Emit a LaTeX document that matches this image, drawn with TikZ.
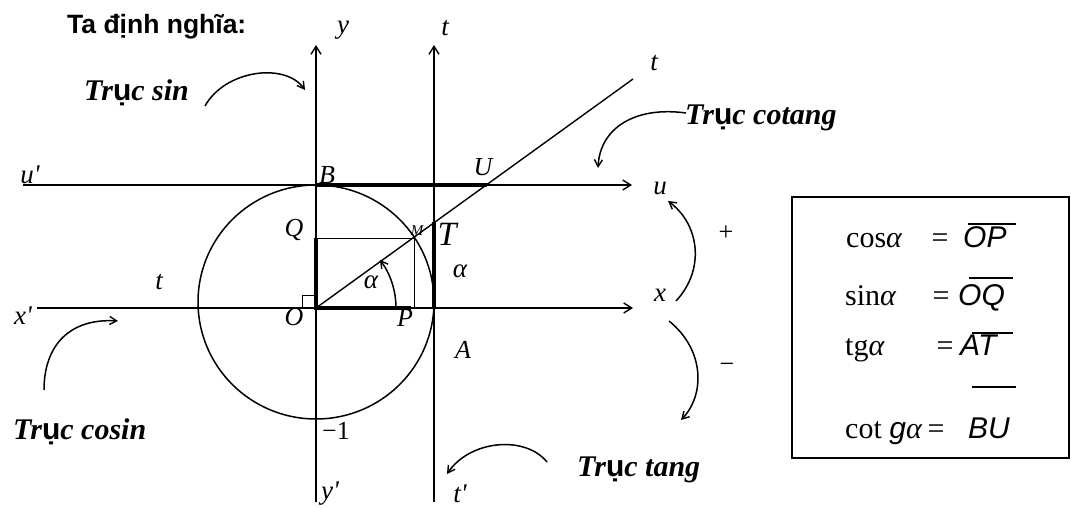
\documentclass[tikz,border=0pt]{standalone}
\usepackage{fontspec}
\setmainfont{Liberation Serif}
\setsansfont{Liberation Sans}
\usetikzlibrary{arrows.meta}
\newcommand{\uu}{{\sffamily\bfseries\upshape ụ}}
\newcommand{\pr}{\textquotesingle}
\begin{document}
\begin{tikzpicture}[x=1pt,y=-1pt,
  axis/.style={line width=1.5pt,-{Straight Barb[length=8pt,width=10pt,line width=1.4pt]}},
  curv/.style={line width=1.5pt,-{Straight Barb[length=7pt,width=8pt,line width=1.4pt]}},
  thinl/.style={line width=1pt},
  boldl/.style={line width=4.5pt,line join=miter},
  lbl/.style={inner sep=0pt,font=\fontsize{27}{30}\selectfont\itshape},
  pt/.style={inner sep=0pt,font=\fontsize{26}{30}\selectfont\itshape},
  big/.style={inner sep=0pt,anchor=west,font=\fontsize{30}{36}\selectfont\bfseries\itshape},
  boxs/.style={inner sep=0pt,font=\fontsize{30}{36}\selectfont},
  boxsans/.style={inner sep=0pt,font=\fontsize{30}{36}\selectfont\sffamily\itshape}]
\useasboundingbox (0,0) rectangle (1071,508);

% coordinates
\coordinate (O) at (316,308);
\coordinate (B) at (316,185);
\coordinate (U) at (487,185);
\coordinate (M) at (414,238);
\coordinate (P) at (414,308);
\coordinate (Pb) at (411,308);
\coordinate (Q) at (316,238);
\coordinate (T) at (434,222);
\coordinate (A) at (434,308);
\coordinate (yb) at (316,502);
\coordinate (yt) at (316,45);
\coordinate (tb) at (434,502);
\coordinate (tt) at (434,45);
\coordinate (ul) at (23,185);
\coordinate (ur) at (632,185);
\coordinate (xl) at (37,308);
\coordinate (xr) at (633,308);
\coordinate (te) at (633,79);

% title
\node[inner sep=0pt,anchor=west,font=\fontsize{26.5}{30}\selectfont\sffamily\bfseries] (title) at (67,27) {Ta định nghĩa:};

% axes
\draw[axis] (yb) -- (yt);
\draw[axis] (tb) -- (tt);
\draw[axis] (ul) -- (ur);
\draw[axis] (xl) -- (xr);

% circle
\draw[line width=1.5pt] (316,302) ellipse [x radius=118, y radius=117];

% ray O-t
\draw[line width=1.4pt] (O) -- (te);

% thin lines
\draw[thinl] (Q) -- (M) -- (P);
\draw[thinl] (302,308) -- (302,295) -- (316,295);

% bold segments
\draw[boldl] (B) -- (U);
\draw[boldl] (Q) -- (O) -- (Pb);
\draw[boldl] (A) -- (T);

% angle arc
\draw[curv] (O) ++(80,0) arc[start angle=0,end angle=-37,radius=80];

% curved arrows
\draw[curv] (205,106) .. controls (225,70) and (285,62) .. (305,90);
\draw[curv] (686,113) .. controls (635,106) and (600,128) .. (598,168);
\draw[curv] (44,390) .. controls (44,345) and (70,318) .. (118,321);
\draw[curv] (547,462) .. controls (525,435) and (470,440) .. (447,474);
\draw[curv] (676,301) .. controls (705,270) and (700,225) .. (668,201);
\draw[curv] (669,321) .. controls (705,350) and (705,395) .. (681,420);

% axis labels
\node[lbl] (ly) at (343,30) {y};
\node[lbl] (lt) at (445,28) {t};
\node[lbl] (lu1) at (30,175) {u\pr};
\node[lbl] (lte) at (654,63) {t};
\node[lbl] (lu) at (660,188) {u};
\node[lbl] (lx) at (660,295) {x};
\node[lbl] (lx1) at (23,316) {x\pr};
\node[lbl] (ltl) at (159,282) {t};
\node[lbl] (ly1) at (330,494) {y\pr};
\node[lbl] (lt1) at (460,494) {t\pr};

% point labels
\node[pt] (lB) at (327,175) {B};
\node[pt] (lU) at (483,167) {U};
\node[pt] (lQ) at (294,230) {Q};
\node[inner sep=0pt,font=\fontsize{15}{18}\selectfont\itshape] (lM) at (417,231) {M};
\node[inner sep=0pt,font=\fontsize{34}{40}\selectfont\itshape] (lT) at (447,234) {T};
\node[lbl] (la1) at (371,282) {α};
\node[lbl] (la2) at (460,271) {α};
\node[pt] (lO) at (294,317) {O};
\node[pt] (lP) at (405,318) {P};
\node[pt] (lA) at (463,350) {A};
\node[inner sep=0pt,font=\fontsize{26}{30}\selectfont] (lm1) at (336,431) {−1};
\node[inner sep=0pt,font=\fontsize{26}{30}\selectfont] (lplus) at (726,233) {+};
\node[inner sep=0pt,font=\fontsize{26}{30}\selectfont] (lminus) at (727,368) {−};

% axis names
\node[big] (tsin) at (84,93) {Tr\uu c sin};
\node[big] (tcot) at (685,118) {Tr\uu c cotang};
\node[big] (tcos) at (13,432) {Tr\uu c cosin};
\node[big] (ttan) at (577,470) {Tr\uu c tang};

% box
\draw[line width=1.5pt] (792,197) rectangle (1069,458);
\node[boxs,anchor=base west] (c1) at (846,247) {cos\textit{α}};
\node[boxs,anchor=base] (e1) at (940,247) {=};
\node[boxsans,anchor=base west] (v1) at (963,247) {OP};
\draw[line width=1.3pt] (968,224) -- (1016,224);

\node[boxs,anchor=base west] (c2) at (845,305) {sin\textit{α}};
\node[boxs,anchor=base] (e2) at (941,305) {=};
\node[boxsans,anchor=base west] (v2) at (958,305) {OQ};
\draw[line width=1.3pt] (969,278) -- (1013,278);

\node[boxs,anchor=base west] (c3) at (845,355) {tg\textit{α}};
\node[boxs,anchor=base] (e3) at (945,355) {=};
\node[boxsans,anchor=base west] (v3) at (960,355) {AT};
\draw[line width=1.3pt] (972,333) -- (1013,333);

\draw[line width=1.3pt] (972,387) -- (1016,387);
\node[boxs,anchor=base west] (c4) at (845,438) {cot {\sffamily\itshape g}\textit{α}};
\node[boxs,anchor=base] (e4) at (936,438) {=};
\node[boxsans,anchor=base west] (v4) at (968,438) {BU};
\end{tikzpicture}
\end{document}
